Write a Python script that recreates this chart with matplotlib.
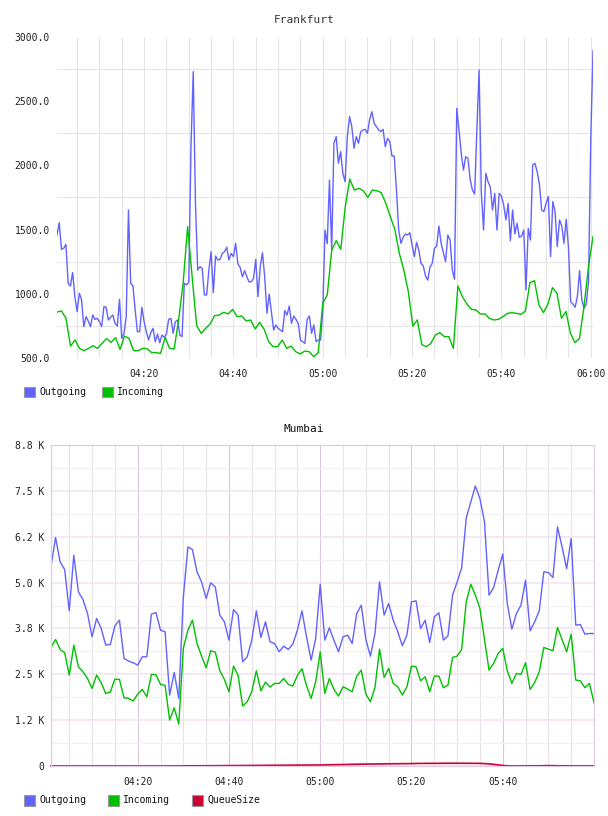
import matplotlib
matplotlib.use("Agg")
import matplotlib.pyplot as plt
import matplotlib.dates as mdates
import pandas as pd
from matplotlib.patches import Rectangle
from matplotlib.ticker import MultipleLocator, FixedLocator, FuncFormatter

# ---- Frankfurt ----
fra_outgoing = [
    1458, 1554, 1346, 1354, 1385, 1082, 1061, 1165, 978, 861,
    1004, 952, 744, 822, 788, 744, 835, 801, 809, 783,
    744, 900, 895, 796, 817, 835, 770, 749, 957, 653,
    692, 822, 1653, 1082, 1061, 874, 705, 705, 895, 783,
    705, 640, 697, 731, 627, 687, 619, 679, 661, 687,
    801, 809, 692, 783, 796, 679, 666, 1082, 1069, 1090,
    2146, 2730, 1700, 1185, 1211, 1198, 991, 991, 1185, 1328,
    1009, 1294, 1263, 1268, 1315, 1328, 1362, 1263, 1315, 1289,
    1393, 1232, 1206, 1133, 1180, 1133, 1092, 1094, 1120, 1268,
    978, 1211, 1320, 1133, 848, 998, 861, 718, 757, 731,
    718, 705, 869, 835, 905, 770, 827, 801, 770, 640,
    627, 614, 801, 827, 692, 757, 627, 640, 640, 861,
    1497, 1390, 1886, 1341, 2172, 2224, 2016, 2107, 1938, 1873,
    2224, 2380, 2302, 2133, 2224, 2172, 2263, 2276, 2281, 2250,
    2359, 2418, 2328, 2302, 2276, 2263, 2281, 2146, 2211, 2185,
    2073, 2073, 1808, 1497, 1393, 1440, 1466, 1458, 1476, 1380,
    1289, 1401, 1341, 1237, 1217, 1139, 1107, 1206, 1237, 1354,
    1372, 1528, 1393, 1320, 1250, 1458, 1419, 1185, 1113, 2444,
    2276, 2094, 1964, 2068, 2055, 1891, 1808, 1777, 2276, 2743,
    1782, 1497, 1938, 1873, 1834, 1653, 1782, 1497, 1782, 1762,
    1692, 1575, 1705, 1414, 1653, 1466, 1549, 1440, 1450, 1497,
    1030, 1510, 1419, 2003, 2016, 1951, 1855, 1653, 1640, 1705,
    1757, 1289, 1718, 1640, 1367, 1575, 1528, 1393, 1580, 1367,
    939, 921, 895, 978, 1180, 952, 887, 921, 1100, 2200,
    2893,
]
fra_incoming = [
    858, 866, 809, 593, 640, 575, 557, 575, 596, 575,
    614, 651, 622, 658, 567, 671, 653, 557, 557, 575,
    573, 542, 542, 536, 661, 575, 570, 796, 1082, 1523,
    1134, 754, 692, 731, 765, 830, 835, 856, 843, 879,
    822, 827, 788, 796, 726, 778, 723, 627, 588, 588,
    640, 575, 593, 549, 531, 554, 549, 510, 541, 926,
    991, 1341, 1414, 1346, 1679, 1894, 1808, 1821, 1803, 1751,
    1808, 1803, 1788, 1705, 1601, 1502, 1315, 1185, 1017, 749,
    796, 604, 588, 614, 679, 697, 666, 666, 575, 1061,
    978, 921, 879, 874, 843, 843, 809, 796, 801, 822,
    848, 853, 848, 840, 866, 1087, 1102, 913, 853, 921,
    1048, 1004, 809, 861, 692, 619, 653, 900, 1211, 1445,
]

# ---- Mumbai ----
mum_outgoing = [
    5446, 6227, 5564, 5355, 4230, 5745, 4747, 4538, 4157, 3522,
    4021, 3748, 3295, 3313, 3821, 3975, 2932, 2859, 2814, 2750,
    2977, 2977, 4139, 4184, 3703, 3658, 1933, 2550, 1842, 4600,
    5972, 5900, 5292, 5019, 4565, 4992, 4883, 4112, 3930, 3431,
    4266, 4112, 2841, 2977, 3431, 4230, 3503, 3930, 3385, 3340,
    3113, 3267, 3177, 3322, 3703, 4230, 3522, 2886, 3476, 4956,
    3430, 3767, 3431, 3113, 3522, 3567, 3340, 4157, 4384, 3449,
    2995, 3612, 5019, 4112, 4429, 3975, 3658, 3277, 3567, 4475,
    4502, 3748, 3975, 3367, 4066, 4175, 3431, 3549, 4656, 5019,
    5401, 6762, 7198, 7633, 7289, 6653, 4656, 4865, 5337, 5773,
    4429, 3730, 4157, 4384, 5065, 3685, 3930, 4230, 5292, 5274,
    5137, 6517, 5972, 5382, 6199, 3839, 3857, 3594, 3612, 3612,
]
mum_incoming = [
    3231, 3449, 3177, 3086, 2478, 3295, 2705, 2569, 2387, 2115,
    2478, 2269, 1978, 2015, 2369, 2360, 1860, 1842, 1770, 1960,
    2087, 1888, 2496, 2487, 2224, 2197, 1252, 1588, 1143, 3204,
    3703, 3975, 3340, 2995, 2677, 3141, 3104, 2596, 2360, 2024,
    2723, 2469, 1634, 1752, 2024, 2596, 2051, 2287, 2151, 2251,
    2251, 2387, 2224, 2178, 2469, 2650, 2187, 1842, 2296, 3113,
    1978, 2387, 2087, 1906, 2160, 2097, 2024, 2450, 2614, 1960,
    1752, 2142, 3186, 2414, 2659, 2251, 2160, 1933, 2160, 2723,
    2705, 2323, 2432, 2024, 2450, 2450, 2133, 2206, 2959, 2995,
    3177, 4475, 4956, 4656, 4293, 3449, 2614, 2795, 3068, 3204,
    2596, 2251, 2523, 2496, 2814, 2087, 2278, 2569, 3231, 3186,
    3141, 3776, 3449, 3113, 3594, 2342, 2323, 2133, 2251, 1724,
]
mum_queue = [
    0, 0, 0, 0, 0, 0, 0, 0, 0, 0, 0, 0, 0, 0, 0, 0, 0, 0, 0, 0, 0, 0, 0, 0, 0,
    1, 1, 2, 3, 3, 4, 5, 5, 6, 7,
    8, 8, 9, 10, 11, 12, 12, 13, 14, 15,
    16, 17, 18, 19, 20, 20, 21, 22, 23, 24,
    25, 26, 26, 27, 28, 30, 32, 35, 38, 40,
    43, 46, 48, 50, 52, 54, 55, 57, 58, 60,
    61, 62, 64, 65, 66, 68, 70, 71, 72, 72,
    73, 74, 75, 75, 76, 75, 74, 73, 72, 70,
    66, 58, 45, 30, 15, 6, 3, 2, 2, 2,
    3, 4, 6, 8, 10, 9, 6, 4, 3, 2, 2, 2, 2, 2, 2,
]

day = "2024-01-01 "
fra_start, fra_end = pd.Timestamp(day + "04:00:30"), pd.Timestamp(day + "06:00:30")
mum_start, mum_end = pd.Timestamp(day + "04:01:00"), pd.Timestamp(day + "06:00:00")
mum_ticks = [pd.Timestamp(day + t) for t in ["04:20", "04:40", "05:00", "05:20", "05:40"]]

BLUE = "#6262ff"
GREEN = "#00c000"
RED = "#cc0033"
MONO = "DejaVu Sans Mono"

W, H = 608, 816
fig = plt.figure(figsize=(W / 100, H / 100), dpi=100)


def px_box(left, top, right, bottom):
    return [left / W, 1 - bottom / H, (right - left) / W, (bottom - top) / H]


def legend(y, items):
    for x, label, color in items:
        fig.patches.append(Rectangle((x / W, 1 - (y + 5.5) / H), 11 / W, 11 / H,
                                     transform=fig.transFigure, facecolor=color,
                                     edgecolor="#999999", lw=0.8))
        fig.text((x + 15) / W, 1 - y / H, label, ha="left", va="center",
                 family=MONO, size=7, color="#111111")


# ---------------- Frankfurt ----------------
ax1 = fig.add_axes(px_box(57, 37, 593, 358))
t_out = pd.date_range(fra_start, fra_end, periods=len(fra_outgoing))
t_in = pd.date_range(fra_start, fra_end, periods=len(fra_incoming))
ax1.plot(t_out, fra_outgoing, color=BLUE, lw=1.0)
ax1.plot(t_in, fra_incoming, color=GREEN, lw=1.0)
ax1.set_xlim(fra_start, fra_end)
ax1.set_ylim(500, 3000)
ax1.xaxis.set_major_locator(mdates.MinuteLocator(byminute=[0, 20, 40]))
ax1.xaxis.set_minor_locator(mdates.MinuteLocator(byminute=range(0, 60, 5)))
ax1.xaxis.set_major_formatter(mdates.DateFormatter("%H:%M"))
ax1.yaxis.set_major_locator(MultipleLocator(500))
ax1.yaxis.set_minor_locator(FixedLocator([750, 1250, 1750, 2250, 2750]))
ax1.yaxis.set_major_formatter(FuncFormatter(lambda v, p: f"{v:.1f}"))
ax1.grid(True, which="both", axis="x", color="#e6e6e6", lw=0.8)
ax1.grid(True, which="minor", axis="y", color="#e6e6e6", lw=0.8)
ax1.set_axisbelow(True)
for s in ax1.spines.values():
    s.set_visible(False)
ax1.tick_params(which="both", length=0, labelsize=7, colors="#222222")
ax1.tick_params(axis="x", pad=8)
ax1.tick_params(axis="y", pad=5)
for lab in ax1.get_xticklabels() + ax1.get_yticklabels():
    lab.set_family(MONO)
fig.text(304 / W, 1 - 20 / H, "Frankfurt", ha="center", va="center",
         family=MONO, size=8, color="#333333")
legend(392, [(24, "Outgoing", BLUE), (102, "Incoming", GREEN)])

# ---------------- Mumbai ----------------
ax2 = fig.add_axes(px_box(51, 445, 594, 766))
t_m = pd.date_range(mum_start, mum_end, periods=len(mum_outgoing))
ax2.plot(t_m, mum_outgoing, color=BLUE, lw=1.0)
ax2.plot(t_m, mum_incoming, color=GREEN, lw=1.0)
ax2.plot(t_m, mum_queue, color=RED, lw=1.2, clip_on=False)
ax2.set_xlim(mum_start, mum_end)
ax2.set_ylim(0, 8750)
ax2.xaxis.set_major_locator(FixedLocator(mdates.date2num(mum_ticks)))
ax2.xaxis.set_minor_locator(mdates.MinuteLocator(byminute=range(0, 60, 5)))
ax2.xaxis.set_major_formatter(mdates.DateFormatter("%H:%M"))
ax2.yaxis.set_major_locator(MultipleLocator(1250))
ax2.yaxis.set_minor_locator(MultipleLocator(625))
ax2.yaxis.set_major_formatter(
    FuncFormatter(lambda v, p: "0" if v == 0 else f"{v / 1000:.1f} K"))
ax2.grid(True, which="major", axis="x", color="#dcc8dc", lw=0.8)
ax2.grid(True, which="minor", axis="x", color="#e9e3e9", lw=0.8)
ax2.grid(True, which="major", axis="y", color="#f0e2f0", lw=1.1)
ax2.grid(True, which="minor", axis="y", color="#f2f0f2", lw=0.9)
ax2.set_axisbelow(True)
for s in ax2.spines.values():
    s.set_color("#e2cce2")
    s.set_linewidth(0.9)
ax2.tick_params(which="both", length=0, labelsize=7, colors="#222222")
ax2.tick_params(axis="x", pad=8)
ax2.tick_params(axis="y", pad=5)
for lab in ax2.get_xticklabels() + ax2.get_yticklabels():
    lab.set_family(MONO)
fig.text(304 / W, 1 - 429 / H, "Mumbai", ha="center", va="center",
         family=MONO, size=8, color="#111111")
legend(800, [(24, "Outgoing", BLUE), (108, "Incoming", GREEN), (192, "QueueSize", RED)])

fig.savefig("out.png", dpi=100, facecolor="white")
